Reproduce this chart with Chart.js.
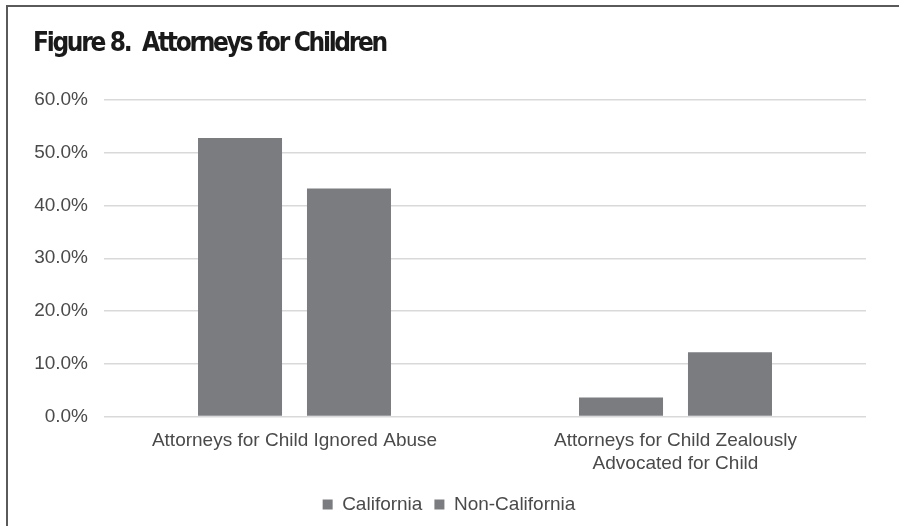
<!DOCTYPE html>
<html>
<head>
<meta charset="utf-8">
<script src="https://cdn.jsdelivr.net/npm/chart.js@4.4.1/dist/chart.umd.min.js"></script>
<style>
    html, body { margin: 0; padding: 0; background: #fff; }
    #wrap { position: relative; width: 899px; height: 526px; }
    #frame {
        position: absolute; left: 6px; top: 5px; right: 0; bottom: 0;
        border-left: 2px solid #5a5a5a; border-top: 2px solid #5a5a5a;
        pointer-events: none;
    }
    #figTitle {
        position: absolute; left: 33px; top: 29px; margin: 0;
        font-family: "DejaVu Sans Condensed", sans-serif;
        font-weight: bold; font-size: 26px; line-height: 1;
        letter-spacing: -2.3px; color: #1a1a1a; white-space: pre;
    }
</style>
</head>
<body>
<div id="wrap">
    <canvas id="attorneysChart" width="899" height="526"></canvas>
    <div id="frame"></div>
    <h1 id="figTitle">Figure 8.  Attorneys for Children</h1>
</div>
<script>
const categories = [
    'Attorneys for Child Ignored Abuse',
    ['Attorneys for Child Zealously', 'Advocated for Child']
];
const california = [52.8, 3.6];
const nonCalifornia = [43.2, 12.2];
const yTicks = [0, 10, 20, 30, 40, 50, 60];

const barGrey = '#7b7c80';
const textGrey = '#4a4a4a';
const bodyFont = '"Liberation Sans", Arial, sans-serif';

const ctx = document.getElementById('attorneysChart').getContext('2d');
new Chart(ctx, {
    type: 'bar',
    data: {
        labels: categories,
        datasets: [{
            label: 'California',
            data: california,
            backgroundColor: barGrey
        }, {
            label: 'Non-California',
            data: nonCalifornia,
            backgroundColor: barGrey
        }]
    },
    options: {
        responsive: false,
        animation: false,
        categoryPercentage: 0.572,
        barPercentage: 0.771,
        layout: {
            padding: { left: 32, right: 33, top: 100, bottom: 2 }
        },
        plugins: {
            legend: {
                position: 'bottom',
                labels: {
                    color: textGrey,
                    font: { family: bodyFont, size: 19 },
                    boxWidth: 10,
                    boxHeight: 10,
                    padding: 12
                }
            },
            tooltip: { enabled: false }
        },
        scales: {
            x: {
                afterFit: (axis) => {
                    axis.height += 3;
                },
                grid: { display: false },
                border: { display: false },
                ticks: {
                    color: textGrey,
                    font: { family: bodyFont, size: 19, lineHeight: 1.25 },
                    padding: 4,
                    maxRotation: 0
                }
            },
            y: {
                min: 0,
                max: 60,
                afterBuildTicks: (axis) => {
                    axis.ticks = yTicks.map(v => ({ value: v }));
                },
                afterFit: (axis) => {
                    axis.width = 72;
                },
                grid: { color: '#d9d9d9', lineWidth: 1.5, drawTicks: false },
                border: { display: false },
                ticks: {
                    color: textGrey,
                    font: { family: bodyFont, size: 19 },
                    padding: 16,
                    callback: (v) => v.toFixed(1) + '%'
                }
            }
        }
    }
});
</script>
</body>
</html>
